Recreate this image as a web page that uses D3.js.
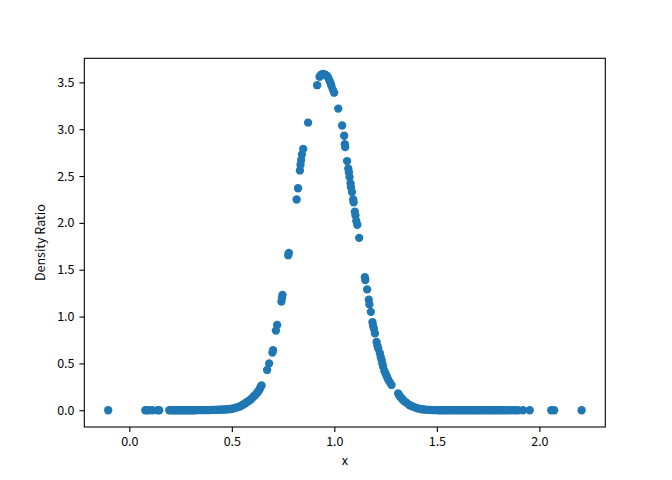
<!DOCTYPE html>
<html>
<head>
<meta charset="utf-8">
<script src="https://cdn.jsdelivr.net/npm/d3@7/dist/d3.min.js"></script>
<style>
  html, body { margin: 0; padding: 0; background: #fff; }
  svg text { font-family: "Noto Sans CJK JP", "Noto Sans", sans-serif; fill: #000; }
</style>
</head>
<body>
<svg id="chart" width="672" height="480"></svg>
<script>
// Sample positions (x) and estimated density ratio (y)
const xValues = [
  -0.103, 0.078, 0.086, 0.094, 0.112, 0.138, 0.146,
  0.195, 0.203, 0.212, 0.221, 0.228, 0.237, 0.246, 0.255, 0.262, 0.270, 0.279,
  0.288, 0.296, 0.305, 0.313, 0.322, 0.330, 0.339, 0.350, 0.358, 0.366, 0.375,
  0.384, 0.393, 0.401, 0.410, 0.419, 0.427, 0.436, 0.445, 0.453, 0.462, 0.470,
  0.478, 0.486, 0.494, 0.502, 0.510, 0.518, 0.526, 0.534, 0.540, 0.547, 0.553,
  0.559, 0.565, 0.571, 0.577, 0.583, 0.589, 0.595, 0.601, 0.607, 0.613, 0.619,
  0.625, 0.630, 0.636, 0.641, 0.645,
  0.672, 0.682, 0.698, 0.701, 0.715, 0.721, 0.742, 0.745, 0.747, 0.775, 0.778,
  0.816, 0.823, 0.832, 0.835, 0.838, 0.842, 0.848, 0.872, 0.916,
  0.928, 0.934, 0.940, 0.946, 0.952, 0.958, 0.964, 0.970, 0.976, 0.982, 0.986,
  0.993, 0.999,
  1.019, 1.038, 1.048, 1.051, 1.053, 1.062, 1.068, 1.071, 1.074, 1.079, 1.081,
  1.086, 1.092, 1.094, 1.100, 1.103, 1.107, 1.112, 1.121, 1.149, 1.151, 1.160,
  1.168, 1.171, 1.178, 1.186, 1.189, 1.193, 1.198, 1.206, 1.210, 1.214, 1.222,
  1.226, 1.230, 1.234, 1.238, 1.244, 1.250, 1.256, 1.262, 1.270, 1.279, 1.311,
  1.316, 1.322, 1.328, 1.335, 1.342, 1.352, 1.360, 1.368, 1.376, 1.384, 1.393,
  1.402, 1.412, 1.425, 1.435, 1.445, 1.455, 1.466, 1.476, 1.486,
  1.495, 1.506, 1.516, 1.527, 1.538, 1.549, 1.560, 1.570, 1.581, 1.593, 1.604,
  1.615, 1.626, 1.636, 1.647, 1.658, 1.669, 1.680, 1.691, 1.702, 1.712, 1.723,
  1.734, 1.745, 1.756, 1.767, 1.778, 1.789, 1.800, 1.811, 1.822, 1.833, 1.844,
  1.857, 1.870, 1.884, 1.896, 1.920, 1.953,
  2.058, 2.072, 2.206
];
const yValues = [
  0.000, 0.000, 0.000, 0.000, 0.000, 0.000, 0.000,
  0.000, 0.000, 0.000, 0.000, 0.000, 0.000, 0.000, 0.000, 0.000, 0.000, 0.000,
  0.000, 0.000, 0.000, 0.000, 0.000, 0.001, 0.001, 0.001, 0.001, 0.001, 0.002,
  0.002, 0.002, 0.003, 0.003, 0.004, 0.004, 0.005, 0.006, 0.007, 0.008, 0.009,
  0.010, 0.011, 0.013, 0.016, 0.020, 0.025, 0.030, 0.036, 0.042, 0.050, 0.057,
  0.065, 0.074, 0.083, 0.092, 0.100, 0.110, 0.120, 0.135, 0.148, 0.160, 0.175,
  0.190, 0.205, 0.225, 0.250, 0.265,
  0.430, 0.500, 0.615, 0.640, 0.850, 0.910, 1.160, 1.200, 1.230, 1.655, 1.680,
  2.250, 2.370, 2.560, 2.620, 2.670, 2.730, 2.790, 3.070, 3.470,
  3.560, 3.580, 3.585, 3.590, 3.585, 3.580, 3.570, 3.550, 3.520, 3.490, 3.460,
  3.420, 3.390,
  3.220, 3.040, 2.930, 2.840, 2.810, 2.660, 2.580, 2.540, 2.490, 2.420, 2.380,
  2.330, 2.250, 2.220, 2.120, 2.080, 2.020, 1.980, 1.840, 1.420, 1.390, 1.290,
  1.180, 1.130, 1.050, 0.940, 0.900, 0.870, 0.820, 0.730, 0.690, 0.660, 0.610,
  0.570, 0.540, 0.500, 0.465, 0.420, 0.390, 0.360, 0.330, 0.300, 0.270, 0.180,
  0.160, 0.140, 0.128, 0.110, 0.095, 0.081, 0.065, 0.053, 0.044, 0.038, 0.030,
  0.022, 0.017, 0.011, 0.008, 0.006, 0.004, 0.003, 0.002, 0.001,
  0.001, 0.000, 0.000, 0.000, 0.000, 0.000, 0.000, 0.000, 0.000, 0.000, 0.000,
  0.000, 0.000, 0.000, 0.000, 0.000, 0.000, 0.000, 0.000, 0.000, 0.000, 0.000,
  0.000, 0.000, 0.000, 0.000, 0.000, 0.000, 0.000, 0.000, 0.000, 0.000, 0.000,
  0.000, 0.000, 0.000, 0.000, 0.000, 0.000,
  0.000, 0.000, 0.000
];
const xTicks = [0.0, 0.5, 1.0, 1.5, 2.0];
const yTicks = [0.0, 0.5, 1.0, 1.5, 2.0, 2.5, 3.0, 3.5];
const xLabel = "x";
const yLabel = "Density Ratio";

const points = xValues.map((x, i) => ({ x, y: yValues[i] }));

const svg = d3.select("#chart");
const mLeft = 84.3, mRight = 605.3, mTop = 58.3, mBottom = 427;

const x = d3.scaleLinear().domain([-0.2195, 2.3215]).range([mLeft, mRight]);
const y = d3.scaleLinear().domain([-0.179, 3.757]).range([mBottom, mTop]);

svg.append("g")
  .selectAll("circle")
  .data(points)
  .join("circle")
  .attr("cx", d => x(d.x))
  .attr("cy", d => y(d.y))
  .attr("r", 4.17)
  .attr("fill", "#1f77b4");

const fmt = d3.format(".1f");
const xAxis = svg.append("g")
  .attr("transform", `translate(0,${mBottom})`)
  .call(d3.axisBottom(x).tickValues(xTicks).tickFormat(fmt).tickSize(4.9).tickPadding(4.9));
const yAxis = svg.append("g")
  .attr("transform", `translate(${mLeft},0)`)
  .call(d3.axisLeft(y).tickValues(yTicks).tickFormat(fmt).tickSize(4.9).tickPadding(4.9));

[xAxis, yAxis].forEach(g => {
  g.select(".domain").remove();
  g.selectAll("line").attr("stroke", "#000").attr("stroke-width", 1.1);
  g.selectAll("text").attr("font-size", 12.5).attr("fill", "#000")
    .style("font-family", '"Noto Sans CJK JP", "Noto Sans", sans-serif');
});

svg.append("rect")
  .attr("x", mLeft).attr("y", mTop)
  .attr("width", mRight - mLeft).attr("height", mBottom - mTop)
  .attr("fill", "none").attr("stroke", "#000").attr("stroke-width", 1.1);

svg.append("text")
  .attr("x", (mLeft + mRight) / 2).attr("y", 465)
  .attr("text-anchor", "middle").attr("font-size", 12.5)
  .text(xLabel);

svg.append("text")
  .attr("transform", `translate(45,${(mTop + mBottom) / 2}) rotate(-90)`)
  .attr("text-anchor", "middle").attr("font-size", 12.5)
  .text(yLabel);
</script>
</body>
</html>
